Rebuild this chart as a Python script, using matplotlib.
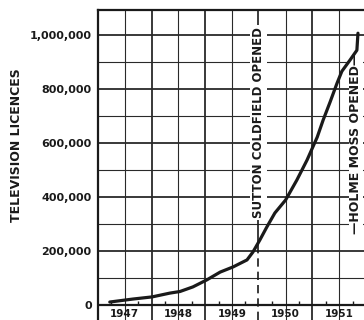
import matplotlib.pyplot as plt
import numpy as np

# licences (decimal year, number of licences)
years = [1947.22, 1947.65, 1948.01, 1948.34, 1948.53, 1948.77, 1949.03, 1949.28,
         1949.52, 1949.78, 1949.89, 1950.02, 1950.15, 1950.30, 1950.50, 1950.71,
         1950.90, 1951.09, 1951.20, 1951.33, 1951.46, 1951.55, 1951.70, 1951.83,
         1951.85]
licences = [11000, 22000, 30000, 44000, 50000, 67000, 93000, 122000,
            141000, 167000, 196000, 241000, 289000, 341000, 389000, 463000,
            537000, 622000, 685000, 752000, 822000, 866000, 907000, 944000,
            1007000]

year_labels = ['1947', '1948', '1949', '1950', '1951']
y_ticks = [0, 200000, 400000, 600000, 800000, 1000000]
y_tick_labels = ['0', '200,000', '400,000', '600,000', '800,000', '1,000,000']

sutton_date = 1949.99
holme_date = 1951.81

ink = '#1a1a1a'
grid_c = '#2a2a2a'

fig = plt.figure(figsize=(3.64, 3.20), dpi=100)
ax = fig.add_axes([98 / 364, 0, 268 / 364, 310 / 320])
ax.set_xlim(1947, 1952)
ax.set_ylim(-55600, 1093000)

# grid (the 1950 boundary is drawn by the Sutton Coldfield line)
ax.set_xticks([1948, 1949, 1951])
ax.set_xticks(np.arange(1947.5, 1952, 1), minor=True)
ax.set_yticks(y_ticks)
ax.set_yticklabels(y_tick_labels, fontsize=8, fontweight='bold', color=ink)
ax.set_yticks(np.arange(100000, 1000001, 200000), minor=True)
ax.tick_params(axis='y', which='both', length=0, pad=4.5)
ax.tick_params(axis='x', which='both', length=0, labelbottom=False)
ax.grid(which='major', color=grid_c, linewidth=1.3)
ax.grid(which='minor', color=grid_c, linewidth=0.8)
ax.set_axisbelow(True)

for side in ['right', 'bottom']:
    ax.spines[side].set_visible(False)
for side in ['left', 'top']:
    ax.spines[side].set_linewidth(1.6)
    ax.spines[side].set_color(ink)

# zero line with small quarter-year ticks
ax.axhline(0, color=ink, linewidth=1.6)
quarters = np.arange(1947.25, 1952, 0.5)
ax.vlines(quarters, 0, 13000, color=ink, linewidth=1.0)

# year labels below the zero line
for i, lab in enumerate(year_labels):
    ax.text(1947.5 + i, -14000, lab, ha='center', va='top',
            fontsize=7.5, fontweight='bold', color=ink)

# the licences curve
ax.plot(years, licences, color=ink, linewidth=2.3, solid_capstyle='round',
        solid_joinstyle='round', zorder=5)

# Sutton Coldfield
ax.vlines(sutton_date, -55600, 205000, color=ink, linewidth=1.2,
          linestyles=(0, (5, 3)))
ax.vlines(sutton_date, 205000, 1093000, color=ink, linewidth=1.2)
ax.text(sutton_date, 675000, 'SUTTON COLDFIELD OPENED', rotation=90,
        ha='center', va='center', fontsize=8.5, fontweight='bold', color=ink,
        bbox=dict(facecolor='white', edgecolor='none', pad=1.5))

# Holme Moss
ax.text(holme_date, 600000, '\u2014HOLME MOSS OPENED\u2014', rotation=90,
        ha='center', va='center', fontsize=9, fontweight='bold', color=ink,
        bbox=dict(facecolor='white', edgecolor='none', pad=0.3))

fig.text(17 / 364, 1 - 145 / 320, 'TELEVISION LICENCES', rotation=90,
         ha='center', va='center', fontsize=9, fontweight='bold', color=ink)

fig.savefig('out.png', dpi=100)
